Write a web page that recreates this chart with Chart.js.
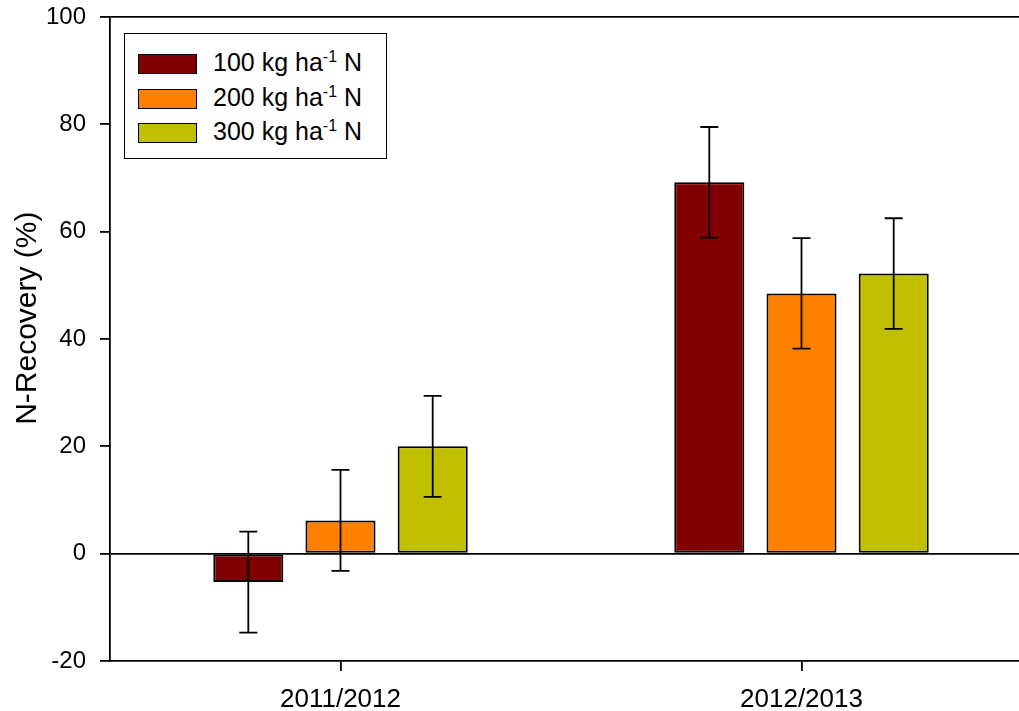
<!DOCTYPE html>
<html>
<head>
<meta charset="utf-8">
<script src="https://cdn.jsdelivr.net/npm/chart.js@4"></script>
<style>
	body { margin: 0; background: #fff; overflow: hidden; font-family: "Liberation Sans", Arial, sans-serif; }
	#wrap { position: relative; width: 1045px; height: 711px; }
	#legend { position: absolute; left: 124px; top: 33px; width: 261px; height: 124px; border: 1.5px solid #000; background: #fff; }
	.row { position: absolute; left: 13px; height: 24px; }
	.sw { position: absolute; left: 0; top: 1px; width: 57px; height: 18px; border: 1.5px solid #000; }
	.txt { position: absolute; left: 75px; top: -5px; font-size: 25px; white-space: nowrap; color: #000; }
	.txt sup { font-size: 16px; vertical-align: 0; position: relative; top: -9px; }
</style>
</head>
<body>
<div id="wrap">
	<canvas id="barChart"></canvas>
	<div id="legend"></div>
</div>
<script>
// seasons on the x axis
var seasons = ["2011/2012", "2012/2013"];
// N rates (kg ha-1)
var rates = ["100", "200", "300"];
var colors = ["#800000", "#ff8000", "#c0c000"];

// mean N recovery (%) per rate, one value per season
var rec100 = [-5.3, 69.2];
var rec200 = [6.2, 48.5];
var rec300 = [20.0, 52.2];

// error bar half-lengths
var err100 = [9.4, 10.3];
var err200 = [9.4, 10.3];
var err300 = [9.4, 10.3];

var yTicks = [-20, 0, 20, 40, 60, 80, 100];

var means = [rec100, rec200, rec300];
var errs = [err100, err200, err300];

// build the html legend (needs the superscript)
var legendBox = document.getElementById("legend");
for (let i = 0; i < rates.length; i++) {
	let row = document.createElement("div");
	row.className = "row";
	row.style.top = (19 + i * 34.5) + "px";
	row.innerHTML = '<div class="sw" style="background:' + colors[i] + '"></div>' +
		'<div class="txt">' + rates[i] + ' kg ha<sup>-1</sup> N</div>';
	legendBox.appendChild(row);
}

// draws the error bars from the y scale
var errorBars = {
	id: "errorBars",
	afterDatasetsDraw(chart) {
		let ctx = chart.ctx;
		let y = chart.scales.y;
		ctx.save();
		ctx.strokeStyle = "#000";
		ctx.lineWidth = 1.8;
		chart.data.datasets.forEach((ds, d) => {
			let meta = chart.getDatasetMeta(d);
			meta.data.forEach((bar, i) => {
				let m = ds.data[i], e = errs[d][i];
				let top = y.getPixelForValue(m + e);
				let bot = y.getPixelForValue(m - e);
				ctx.beginPath();
				ctx.moveTo(bar.x, top); ctx.lineTo(bar.x, bot);
				ctx.moveTo(bar.x - 9, top); ctx.lineTo(bar.x + 9, top);
				ctx.moveTo(bar.x - 9, bot); ctx.lineTo(bar.x + 9, bot);
				ctx.stroke();
			});
		});
		ctx.restore();
	}
};

var fam = "'Liberation Sans', Arial, sans-serif";

var chart = new Chart(document.getElementById("barChart"), {
	type: "bar",
	data: {
		labels: seasons,
		datasets: rates.map((r, i) => ({
			label: r + " kg ha-1 N",
			data: means[i],
			backgroundColor: colors[i],
			borderColor: "#000",
			borderWidth: 2,
			borderSkipped: false,
			categoryPercentage: 0.6,
			barPercentage: 0.76
		}))
	},
	options: {
		responsive: true,
		maintainAspectRatio: false,
		animation: false,
		layout: { padding: { top: 17, right: 13, left: 0, bottom: 0 } },
		plugins: {
			legend: { display: false },
			tooltip: { enabled: false }
		},
		scales: {
			x: {
				grid: { drawOnChartArea: false, offset: false, tickColor: "#000", tickLength: 10, lineWidth: 1.8 },
				border: { color: "#000", width: 1.8 },
				ticks: { color: "#000", font: { family: fam, size: 26 }, padding: 13 },
				afterFit(s) { s.height = 50; }
			},
			y: {
				min: -20,
				max: 100,
				afterBuildTicks(s) { s.ticks = yTicks.map(v => ({ value: v })); },
				grid: {
					color: c => (c.tick && (c.tick.value === 0 || c.tick.value === 100)) ? "#000" : "rgba(0,0,0,0)",
					tickColor: "#000",
					tickLength: 10,
					lineWidth: 1.8
				},
				border: { color: "#000", width: 1.8 },
				ticks: { color: "#000", font: { family: fam, size: 24 }, padding: 14 },
				title: {
					display: true,
					// leading spaces nudge the title up a little, like the original
					text: "\u00a0\u00a0\u00a0\u00a0\u00a0N-Recovery (%)",
					color: "#000",
					font: { family: fam, size: 30 },
					padding: { top: 10, bottom: 0 }
				},
				afterFit(s) {
					s.width = 110;
					s.paddingTop = 0;
					s.paddingBottom = 0;
				}
			}
		}
	},
	plugins: [errorBars]
});
</script>
</body>
</html>
